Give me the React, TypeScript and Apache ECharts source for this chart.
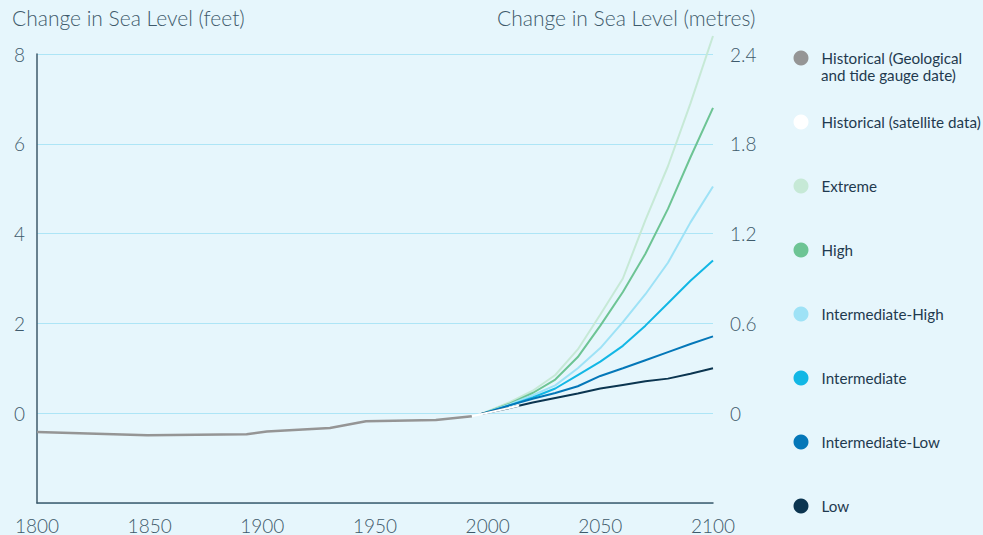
import React, { useEffect, useRef } from "react";
import * as echarts from "echarts";

const histYears = [1800, 1849, 1893, 1902, 1930, 1946, 1977, 1993];
const histValues = [-0.42, -0.49, -0.47, -0.41, -0.33, -0.18, -0.15, -0.07];
const satYears = [1993, 2000, 2014];
const satValues = [-0.07, 0.01, 0.17];
const projYears = [1997, 2010, 2020, 2030, 2040, 2050, 2060, 2070, 2080, 2090, 2100];
const extremeValues = [-0.02, 0.25, 0.5, 0.85, 1.42, 2.2, 3.0, 4.3, 5.5, 6.9, 8.4];
const highValues = [-0.02, 0.22, 0.45, 0.75, 1.25, 1.95, 2.7, 3.55, 4.55, 5.7, 6.8];
const intHighValues = [-0.02, 0.2, 0.4, 0.62, 1.0, 1.45, 2.03, 2.65, 3.35, 4.25, 5.05];
const intValues = [-0.02, 0.18, 0.35, 0.55, 0.85, 1.15, 1.5, 1.95, 2.45, 2.95, 3.4];
const intLowValues = [-0.02, 0.18, 0.32, 0.45, 0.6, 0.83, 1.0, 1.18, 1.36, 1.54, 1.71];
const lowValues = [-0.02, 0.12, 0.24, 0.34, 0.44, 0.55, 0.63, 0.71, 0.77, 0.88, 1.0];

const seriesNames = [
  "Historical (Geological and tide gauge date)",
  "Historical (satellite data)",
  "Extreme",
  "High",
  "Intermediate-High",
  "Intermediate",
  "Intermediate-Low",
  "Low",
];
const seriesColors = ["#959595", "#ffffff", "#c6e9d6", "#6dc494", "#9ee2f6", "#12b7e5", "#0477b8", "#0b3550"];

const zip = (xs: number[], ys: number[]) => xs.map((x, i) => [x, ys[i]]);

export default function App() {
  const ref = useRef<HTMLDivElement>(null);
  useEffect(() => {
    if (!ref.current) return;
    const chart = echarts.init(ref.current, undefined, { renderer: "svg" });
    const font = "Lato, 'Noto Sans', sans-serif";
    const textColor = "#3e5a6b";
    const legendColor = "#1f3a4f";
    const dataSets = [
      zip(histYears, histValues),
      zip(satYears, satValues),
      zip(projYears, extremeValues),
      zip(projYears, highValues),
      zip(projYears, intHighValues),
      zip(projYears, intValues),
      zip(projYears, intLowValues),
      zip(projYears, lowValues),
    ];
    const drawOrder = [0, 2, 3, 4, 5, 6, 7, 1];
    const series = drawOrder.map((i) => ({
      name: seriesNames[i],
      type: "line",
      data: dataSets[i],
      symbol: "none",
      clip: false,
      lineStyle: { color: seriesColors[i], width: i === 0 ? 2.5 : 2 },
      itemStyle: { color: seriesColors[i] },
      z: 3,
    }));
    const legendCenters = [58, 122, 186, 250, 314, 378, 442, 506];
    const legends = seriesNames.map((n, i) => ({
      data: [n],
      orient: "vertical",
      left: 793.5,
      top: legendCenters[i] - 7.5,
      padding: 0,
      itemWidth: 31,
      itemHeight: 15,
      icon: "circle",
      formatter: i === 0 ? () => "Historical (Geological" : undefined,
      textStyle: {
        fontFamily: font,
        fontSize: 15.2,
        color: legendColor,
      },
    }));
    chart.setOption({
      animation: false,
      backgroundColor: "#e6f6fc",
      textStyle: { fontFamily: font },
      title: [
        { text: "Change in Sea Level (feet)", left: 12, top: 7, padding: 0, textStyle: { fontFamily: font, fontSize: 21, fontWeight: 300, color: textColor } },
        { text: "Change in Sea Level (metres)", left: 497, top: 7, padding: 0, textStyle: { fontFamily: font, fontSize: 21, fontWeight: 300, color: textColor } },
      ],
      legend: legends,
      graphic: [
        {
          type: "text",
          left: 821,
          top: 67,
          style: { text: "and tide gauge date)", fontFamily: font, fontSize: 15.2, fill: legendColor },
        },
      ],
      grid: { left: 37, right: 270, top: 54, bottom: 30, containLabel: false },
      xAxis: {
        type: "value",
        min: 1800,
        max: 2100,
        interval: 50,
        axisLine: { show: true, onZero: false, lineStyle: { color: "#3e5a6b", width: 1.5 } },
        axisTick: { show: false },
        splitLine: { show: false },
        axisLabel: { fontFamily: font, fontSize: 19, fontWeight: 300, color: textColor, margin: 13, formatter: (v: number) => String(v) },
      },
      yAxis: [
        {
          type: "value",
          min: -2,
          max: 8,
          interval: 2,
          axisLine: { show: true, lineStyle: { color: "#3e5a6b", width: 1.5 } },
          axisTick: { show: false },
          splitLine: { show: true, lineStyle: { color: "#ade5f6", width: 1.2 } },
          axisLabel: {
            fontFamily: font,
            fontSize: 19,
            fontWeight: 300,
            color: textColor,
            margin: 12,
            formatter: (v: number) => (v < 0 ? "" : String(v)),
          },
        },
        {
          type: "value",
          position: "right",
          min: -0.6,
          max: 2.4,
          interval: 0.6,
          axisLine: { show: false },
          axisTick: { show: false },
          splitLine: { show: false },
          axisLabel: {
            fontFamily: font,
            fontSize: 19,
            fontWeight: 300,
            color: textColor,
            margin: 17,
            formatter: (v: number) => (v < -0.01 ? "" : String(Math.round(v * 10) / 10)),
          },
        },
      ],
      series,
    });
    return () => chart.dispose();
  }, []);
  return <div ref={ref} style={{ width: 983, height: 535, position: "absolute", left: 0, top: 0 }} />;
}
